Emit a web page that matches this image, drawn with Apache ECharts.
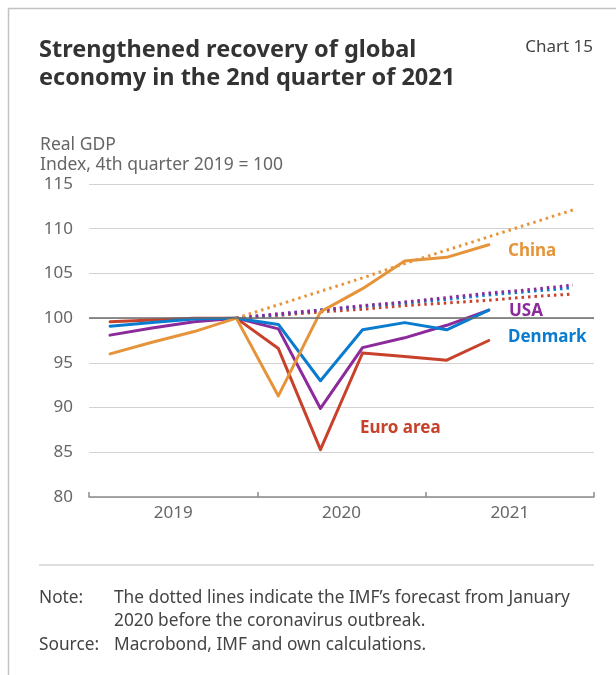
<!DOCTYPE html>
<html>
<head>
<meta charset="utf-8">
<script src="https://cdn.jsdelivr.net/npm/echarts@6/dist/echarts.min.js"></script>
<style>
  html, body { margin: 0; padding: 0; background: #ffffff; }
  #chart { width: 616px; height: 675px; }
</style>
</head>
<body>
<div id="chart"></div>
<script>
// Quarterly categories and year labels for the x axis
const quarters = ['2019 Q1', '2019 Q2', '2019 Q3', '2019 Q4',
                  '2020 Q1', '2020 Q2', '2020 Q3', '2020 Q4',
                  '2021 Q1', '2021 Q2', '2021 Q3', '2021 Q4'];
const years = ['2019', '2020', '2021'];

// Real GDP, index 2019 Q4 = 100 (actual outcomes)
const china   = [96.0, 97.3, 98.5, 100, 91.3, 100.7, 103.3, 106.4, 106.8, 108.2, null, null];
const usa     = [98.1, 98.9, 99.6, 100, 98.8, 89.9, 96.7, 97.8, 99.2, 100.9, null, null];
const denmark = [99.1, 99.5, 99.9, 100, 99.3, 93.0, 98.7, 99.5, 98.7, 100.9, null, null];
const euro    = [99.6, 99.8, 100.0, 100, 96.6, 85.3, 96.1, 95.7, 95.3, 97.5, null, null];

// IMF forecast from January 2020 (dotted lines)
const chinaForecast   = [null, null, null, 100, 101.5, 103.0, 104.5, 106.1, 107.6, 109.1, 110.6, 112.1];
const usaForecast     = [null, null, null, 100, 100.5, 100.9, 101.4, 101.8, 102.3, 102.8, 103.2, 103.7];
const denmarkForecast = [null, null, null, 100, 100.4, 100.9, 101.3, 101.7, 102.1, 102.6, 103.0, 103.4];
const euroForecast    = [null, null, null, 100, 100.3, 100.7, 101.0, 101.4, 101.7, 102.0, 102.4, 102.7];

const FONT = 'Noto Sans';
const C_CHINA = '#E5943A';
const C_USA = '#8C2A9C';
const C_DK = '#0A7CCF';
const C_EURO = '#C8412A';

function solid(name, data, color) {
  return {
    name, type: 'line', data, symbol: 'none', z: 3,
    lineStyle: { color, width: 3, cap: 'round', join: 'round' },
    connectNulls: false
  };
}
function dotted(name, data, color) {
  return {
    name, type: 'line', data, symbol: 'none', z: 2,
    lineStyle: { color, width: 3, type: [2.5, 4], cap: 'butt' }
  };
}
function text(t, x, y, opts) {
  return {
    type: 'text', x, y, silent: true,
    style: Object.assign({
      text: t, fontFamily: FONT, fontSize: 17.3, fill: '#555',
      verticalAlign: 'middle', align: 'left'
    }, opts || {})
  };
}

const chart = echarts.init(document.getElementById('chart'), null, { renderer: 'canvas' });

chart.setOption({
  animation: false,
  backgroundColor: '#ffffff',
  grid: { left: 89, right: 22, top: 184, bottom: 178, containLabel: false },
  xAxis: [
    {
      type: 'category', data: quarters, boundaryGap: true,
      axisLine: { lineStyle: { color: '#8c8c8c', width: 1.5 } },
      axisTick: { show: true, inside: true, length: 5, interval: (i) => i % 4 === 0,
                  lineStyle: { color: '#8c8c8c', width: 1.5 } },
      axisLabel: { show: false },
      splitLine: { show: false }
    },
    {
      type: 'category', data: years, boundaryGap: true, position: 'bottom',
      axisLine: { show: false }, axisTick: { show: false },
      axisLabel: { color: '#666', fontSize: 17, fontFamily: FONT, margin: 8 },
      splitLine: { show: false }
    }
  ],
  yAxis: {
    type: 'value', min: 80, max: 115, interval: 5,
    axisLine: { show: false }, axisTick: { show: false },
    axisLabel: { color: '#666', fontSize: 17, fontFamily: FONT, margin: 16 },
    splitLine: { lineStyle: { color: '#d2d2d2', width: 1 } }
  },
  series: [
    {
      name: 'base', type: 'line', data: [], z: 1,
      markLine: {
        silent: true, symbol: ['none', 'none'], label: { show: false },
        lineStyle: { color: '#6a6a6a', width: 1.6, type: 'solid' },
        data: [{ yAxis: 100 }]
      }
    },
    dotted('Euro area forecast', euroForecast, C_EURO),
    dotted('Denmark forecast', denmarkForecast, C_DK),
    dotted('USA forecast', usaForecast, C_USA),
    dotted('China forecast', chinaForecast, C_CHINA),
    solid('Euro area', euro, C_EURO),
    solid('USA', usa, C_USA),
    solid('Denmark', denmark, C_DK),
    solid('China', china, C_CHINA)
  ],
  graphic: [
    // frame
    { type: 'polyline', silent: true,
      shape: { points: [[8.5, 675], [8.5, 8.5], [616, 8.5]] },
      style: { stroke: '#c2c2c2', lineWidth: 1.5, fill: null } },
    // separator above the notes
    { type: 'line', silent: true,
      shape: { x1: 39, y1: 565, x2: 594, y2: 565 },
      style: { stroke: '#bdbdbd', lineWidth: 1 } },
    text('Strengthened recovery of global', 39, 50.6, { fontSize: 23.5, fontWeight: 'bold', fill: '#333' }),
    text('economy in the 2nd quarter of 2021', 39, 78.3, { fontSize: 23.5, fontWeight: 'bold', fill: '#333' }),
    text('Chart 15', 593, 47.5, { align: 'right', fontSize: 17, fill: '#444' }),
    text('Real GDP', 40, 145, { fontSize: 17.5, fill: '#666' }),
    text('Index, 4th quarter 2019 = 100', 40, 165, { fontSize: 17.5, fill: '#666' }),
    text('China', 508, 251, { fontSize: 17, fontWeight: 'bold', fill: C_CHINA }),
    text('USA', 509, 311, { fontSize: 17, fontWeight: 'bold', fill: C_USA }),
    text('Denmark', 508, 337, { fontSize: 17, fontWeight: 'bold', fill: C_DK }),
    text('Euro area', 360, 428.5, { fontSize: 17, fontWeight: 'bold', fill: C_EURO }),
    text('Note:', 39, 597.6, { fill: '#444' }),
    text('The dotted lines indicate the IMF\u2019s forecast from January', 114, 597.6, { fill: '#444' }),
    text('2020 before the coronavirus outbreak.', 114, 621, { fill: '#444' }),
    text('Source:', 39, 644.6, { fill: '#444' }),
    text('Macrobond, IMF and own calculations.', 114, 644.6, { fill: '#444' })
  ]
});
</script>
</body>
</html>
